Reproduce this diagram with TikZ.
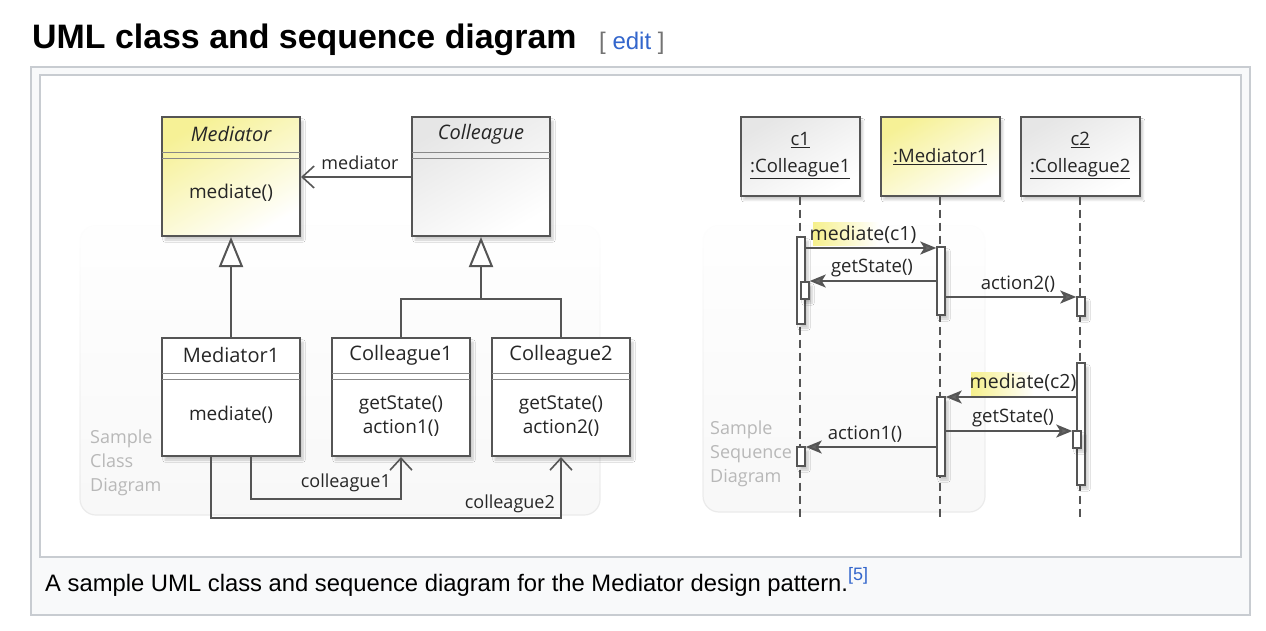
\documentclass[tikz,border=0pt]{standalone}
\usepackage{fontspec}
\setmainfont{Liberation Sans}
\newfontfamily\umlfont{Open Sans}
\usetikzlibrary{arrows.meta,shadows.blur,fadings,calc}
\definecolor{ln}{HTML}{555555}
\definecolor{frame}{HTML}{C8CCD1}
\definecolor{framebg}{HTML}{F8F9FA}
\definecolor{linkblue}{HTML}{3366CC}
\definecolor{myellow}{RGB}{246,241,150}
\definecolor{hly}{RGB}{246,240,140}
\definecolor{cgray}{RGB}{230,230,230}
\definecolor{wm}{HTML}{B8B8B8}
\tikzfading[name=panelfade, top color=transparent!100, bottom color=transparent!15]
\tikzset{
  x=1pt, y=-1pt,
  shad/.style={blur shadow={shadow xshift=3pt, shadow yshift=-4pt, shadow blur steps=6, shadow opacity=20}},
  cbox/.style={draw=ln, line width=2pt, rectangle, inner sep=0pt, shad},
  sbox/.style={draw=ln, line width=1.6pt, rectangle, inner sep=0pt, shad},
  yfill/.style={top color=myellow, bottom color=white, shading angle=30},
  gfill/.style={top color=cgray, bottom color=white, shading angle=30},
  dbl/.style={draw=ln!70, line width=1pt},
  ctext/.style={font=\umlfont\fontsize{20}{24}\selectfont, text=black!85, align=center, inner sep=0pt},
  otext/.style={font=\umlfont\fontsize{19}{24}\selectfont, text=black!85, align=center, inner sep=0pt},
  ltext/.style={font=\umlfont\fontsize{18}{24}\selectfont, text=black!85, align=center, inner sep=0pt},
  stext/.style={font=\umlfont\fontsize{18.5}{27}\selectfont, text=black!85, align=center, inner sep=0pt},
  wmtext/.style={font=\umlfont\fontsize{18}{24}\selectfont, text=wm, align=left, inner sep=0pt, anchor=west},
  conn/.style={draw=ln, line width=2pt},
  gen/.style={conn, -{Triangle[open, length=30pt, width=24pt, fill=white]}},
  assoc/.style={conn, -{Straight Barb[length=12pt, width=22pt, line width=1.6pt]}},
  life/.style={draw=ln, line width=2pt, dash pattern=on 8pt off 5pt},
  actbar/.style={draw=ln, line width=1.5pt, fill=white, rectangle, inner sep=0pt, minimum width=8pt, shad},
  msg/.style={draw=ln, line width=2pt, -{Stealth[length=16pt, width=13pt, inset=4pt, fill=ln!90]}},
  panel/.style={draw=black!9, line width=1.2pt, fill=black!3, rounded corners=16pt, path fading=panelfade},
}
\begin{document}
\begin{tikzpicture}
% canvas
\path[use as bounding box, fill=white] (0,0) rectangle (1266,630);
% heading
\node[anchor=base west, inner sep=0pt, font=\bfseries\fontsize{33.9}{38}\selectfont] (title) at (32,48) {UML class and sequence diagram};
\node[anchor=base west, inner sep=0pt, font=\fontsize{24}{28}\selectfont] (edit) at (599,49) {\textcolor{black!55}{[}\ \textcolor{linkblue}{edit}\ \textcolor{black!55}{]}};
% frames
\node[draw=frame, fill=framebg, line width=2pt, rectangle, inner sep=0pt, minimum width=1219pt, minimum height=548pt, anchor=north west] (thumb) at (30,66) {};
\node[draw=frame, fill=white, line width=2pt, rectangle, inner sep=0pt, minimum width=1201pt, minimum height=482pt, anchor=north west] (img) at (39,74) {};
\node[anchor=base west, inner sep=0pt, font=\fontsize{23.8}{28}\selectfont] (caption) at (45,591) {A sample UML class and sequence diagram for the Mediator design pattern.\raisebox{11pt}{\fontsize{18}{20}\selectfont\textcolor{linkblue}{[5]}}};

% watermark panels
\path[panel] (80,225) rectangle (600,515);
\path[panel] (703,225) rectangle (985,512);
\node[wmtext] (wm1) at (90,463) {Sample\\Class\\Diagram};
\node[wmtext] (wm2) at (710,454) {Sample\\Sequence\\Diagram};

% ===== class diagram =====
\node[cbox, yfill, minimum width=138pt, minimum height=119pt, anchor=north west] (med) at (161,116) {};
\node[cbox, gfill, minimum width=138pt, minimum height=119pt, anchor=north west] (col) at (411,116) {};
\node[cbox, fill=white, minimum width=138pt, minimum height=118pt, anchor=north west] (med1) at (161,337) {};
\node[cbox, fill=white, minimum width=138pt, minimum height=118pt, anchor=north west] (col1) at (331,337) {};
\node[cbox, fill=white, minimum width=138pt, minimum height=118pt, anchor=north west] (col2) at (491,337) {};
\foreach \b in {med,col,med1,col1,col2}{
  \draw[dbl] ($(\b.north west)+(1,36)$) -- ($(\b.north east)+(-1,36)$);
  \draw[dbl] ($(\b.north west)+(1,42)$) -- ($(\b.north east)+(-1,42)$);
}
\node[ctext, font=\umlfont\itshape\fontsize{20}{24}\selectfont] (medname) at ($(med.north)+(0,18)$) {Mediator};
\node[otext] (medop) at ($(med.north)+(0,77)$) {mediate()};
\node[ctext, font=\umlfont\itshape\fontsize{20}{24}\selectfont] (colname) at ($(col.north)+(0,18)$) {Colleague};
\node[ctext] (med1name) at ($(med1.north)+(0,18)$) {Mediator1};
\node[otext] (med1op) at ($(med1.north)+(0,78)$) {mediate()};
\node[ctext] (col1name) at ($(col1.north)+(0,18)$) {Colleague1};
\node[otext] (col1op) at ($(col1.north)+(0,79)$) {getState()\\action1()};
\node[ctext] (col2name) at ($(col2.north)+(0,18)$) {Colleague2};
\node[otext] (col2op) at ($(col2.north)+(0,79)$) {getState()\\action2()};

% generalizations
\coordinate (j) at ($(col.south)+(0,62)$);
\draw[gen] (med1.north) -- (med.south);
\draw[conn] (col1.north) |- (j) -| (col2.north);
\draw[gen] (j) -- (col.south);
% associations
\draw[assoc] ($(col.north west)+(0,61)$) -- ($(med.north east)+(0,61)$);
\node[ltext, anchor=center] (lmed) at (360,163) {mediator};
\draw[assoc] ($(med1.south west)+(90,0)$) -- ++(0,42) -| (col1.south);
\node[ltext, anchor=east] (lc1) at (391,483) {colleague1};
\draw[assoc] ($(med1.south west)+(50,0)$) -- ++(0,61) -| (col2.south);
\node[ltext, anchor=east] (lc2) at (555,504) {colleague2};

% ===== sequence diagram =====
\node[sbox, gfill, minimum width=119pt, minimum height=79pt, anchor=north west] (o1) at (740,116) {};
\node[sbox, yfill, minimum width=119pt, minimum height=79pt, anchor=north west] (om) at (880,116) {};
\node[sbox, gfill, minimum width=119pt, minimum height=79pt, anchor=north west] (o2) at (1020,116) {};
\node[stext] (o1t) at ($(o1.center)+(0,-1)$) {\underline{c1}\\\underline{:Colleague1}};
\node[stext] (omt) at (om.center) {\underline{:Mediator1}};
\node[stext] (o2t) at ($(o2.center)+(0,-1)$) {\underline{c2}\\\underline{:Colleague2}};
\coordinate (e1) at (o1.south |- 0,517);
\coordinate (em) at (om.south |- 0,517);
\coordinate (e2) at (o2.south |- 0,517);
\draw[life] (o1.south) -- (e1);
\draw[life] (om.south) -- (em);
\draw[life] (o2.south) -- (e2);

% activation bars
\node[actbar, minimum height=87pt] (a1) at (801,280.5) {};
\node[actbar, minimum height=17pt] (a1n) at (805,290.5) {};
\node[actbar, minimum height=68pt] (am1) at (941,281) {};
\node[actbar, minimum height=19pt] (ac2a) at (1081,306.5) {};
\node[actbar, minimum height=122pt] (ac2b) at (1081,424) {};
\node[actbar, minimum height=17pt] (ac2n) at (1077,439.5) {};
\node[actbar, minimum height=79pt] (am2) at (941,436.5) {};
\node[actbar, minimum height=19pt] (a1b) at (801,456.5) {};

% highlights
\shade[left color=hly, right color=white] (813,222) rectangle (879,245);
\shade[left color=hly, right color=white] (971,372) rectangle (1034,395);

% messages
\draw[msg] (a1.east |- 0,248) -- (am1.west |- 0,248);
\node[stext, font=\umlfont\fontsize{19.5}{27}\selectfont] (m1) at (863,235) {mediate(c1)};
\draw[msg] (am1.west |- 0,281) -- (a1n.east |- 0,281);
\node[stext] (m2) at (872,268) {getState()};
\draw[msg] (am1.east |- 0,297) -- (ac2a.west |- 0,297);
\node[stext] (m3) at (1018,284) {action2()};
\draw[msg] (ac2b.west |- 0,397) -- (am2.east |- 0,397);
\node[stext, font=\umlfont\fontsize{19.5}{27}\selectfont] (m4) at (1023,383) {mediate(c2)};
\draw[msg] (am2.east |- 0,431) -- (ac2n.west |- 0,431);
\node[stext] (m5) at (1013,418) {getState()};
\draw[msg] (am2.west |- 0,447) -- (a1b.east |- 0,447);
\node[stext] (m6) at (865,434) {action1()};
\end{tikzpicture}
\end{document}
